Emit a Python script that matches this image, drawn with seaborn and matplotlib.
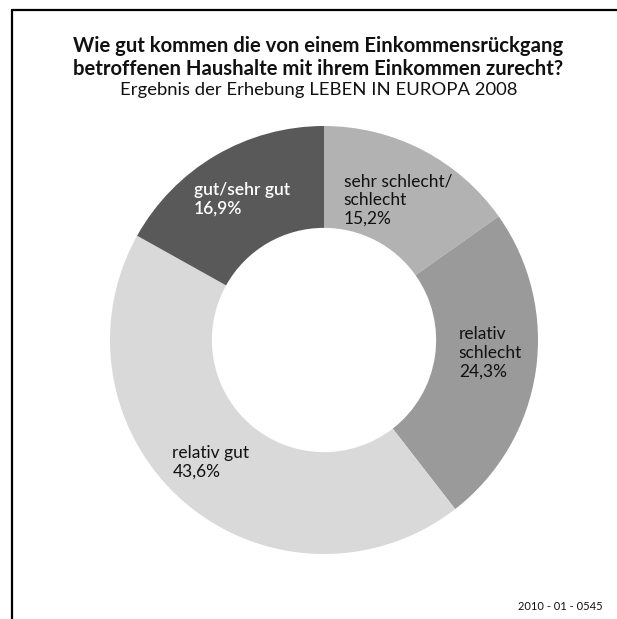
import numpy as np
import matplotlib
matplotlib.use("Agg")
import matplotlib.pyplot as plt
import seaborn as sns
from matplotlib.lines import Line2D

categories = ["sehr schlecht/\nschlecht", "relativ\nschlecht", "relativ gut", "gut/sehr gut"]
values = [15.2, 24.3, 43.6, 16.9]
value_labels = ["15,2%", "24,3%", "43,6%", "16,9%"]
colors = ["#b2b2b2", "#9a9a9a", "#d9d9d9", "#595959"]
text_colors = ["#111111", "#111111", "#111111", "#ffffff"]
text_weights = ["normal", "normal", "normal", "semibold"]

sns.set_theme(style="white")
plt.rcParams["font.family"] = ["Lato", "DejaVu Sans"]

W, H = 617, 619
fig = plt.figure(figsize=(W / 100, H / 100), dpi=100)
fig.patch.set_facecolor("white")

cx, cy, R = 324, 340, 214
ax = fig.add_axes([(cx - R) / W, (H - cy - R) / H, 2 * R / W, 2 * R / H])
wedges, _ = ax.pie(values, colors=colors, startangle=90, counterclock=False,
                   radius=1.0, wedgeprops=dict(width=0.476, linewidth=0))
ax.set_xlim(-1, 1)
ax.set_ylim(-1, 1)
ax.set_aspect("equal")
ax.axis("off")

cum = np.cumsum([0] + values[:-1])
radii = [0.74, 0.78, 0.78, 0.76]
nudge_deg = [-0.5, 4.0, -2.0, 0.0]
for i, (cat, val) in enumerate(zip(categories, values)):
    mid = np.deg2rad(90 - (cum[i] + val / 2) * 3.6 + nudge_deg[i])
    r = radii[i]
    ax.text(r * np.cos(mid), r * np.sin(mid), f"{cat}\n{value_labels[i]}",
            ha="center", va="center", multialignment="left",
            fontsize=12.5, color=text_colors[i], fontweight=text_weights[i],
            linespacing=1.2)

fig.text(318 / W, 1 - 46 / H, "Wie gut kommen die von einem Einkommensrückgang",
         ha="center", va="center", fontsize=14.6, fontweight="bold", color="#111111")
fig.text(318 / W, 1 - 69 / H, "betroffenen Haushalte mit ihrem Einkommen zurecht?",
         ha="center", va="center", fontsize=14.6, fontweight="bold", color="#111111")
fig.text(319 / W, 1 - 90 / H, "Ergebnis der Erhebung LEBEN IN EUROPA 2008",
         ha="center", va="center", fontsize=13.3, color="#111111")
fig.text(603 / W, 1 - 606 / H, "2010 - 01 - 0545", ha="right", va="center",
         fontsize=8, color="#111111")

fig.add_artist(Line2D([12 / W, 1.0], [1 - 10 / H, 1 - 10 / H], color="black", lw=1.6))
fig.add_artist(Line2D([12 / W, 12 / W], [1 - 10 / H, 0.0], color="black", lw=1.6))

fig.savefig("out.png", dpi=100, facecolor="white")
